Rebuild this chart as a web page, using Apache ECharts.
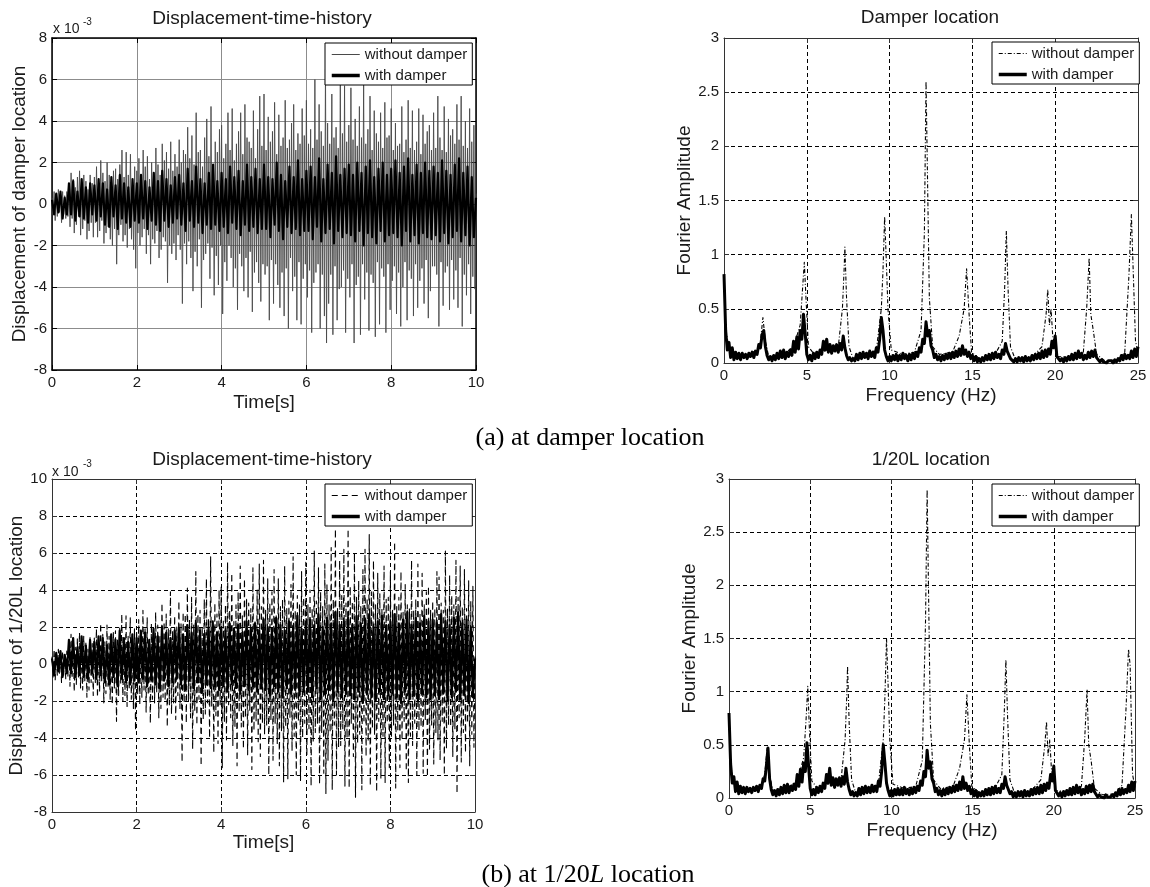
<!DOCTYPE html>
<html>
<head>
<meta charset="utf-8">
<script src="https://cdn.jsdelivr.net/npm/echarts@6/dist/echarts.min.js"></script>
<style>
  html, body { margin: 0; background: #fff; }
  #main { width: 1150px; height: 887px; }
</style>
</head>
<body>
<div id="main"></div>
<script>
// without damper time histories, units of 1e-3, one value every 0.025 s from 0 to 10 s
const dtFine = 0.025;
const dampWithout = [
  0.3, -0.5, 0.6, -0.8, 0.4, -0.6, 0.7, -0.4, 0.5, -0.9, 0.6, -0.5, 0.4, -0.7, 0.6, -0.6, 0.9, -1.1, 1.5, -0.7,
  1.2, -1.4, 0.8, -1.0, 1.3, -0.6, 1.6, -1.5, 0.9, -1.2, 1.4, -0.8, 1.1, -1.7, 0.7, -1.3, 1.4, -0.9, 1.0, -1.6,
  1.3, -0.9, 1.8, -1.6, 1.0, -1.3, 2.1, -0.8, 1.5, -1.9, 1.1, -1.4, 2.0, -1.1, 1.4, -1.7, 0.9, -2.0, 1.6, -1.2,
  1.7, -2.9, 1.2, -1.5, 1.9, -1.0, 2.6, -1.8, 1.3, -1.5, 2.5, -2.1, 1.4, -1.2, 2.4, -1.7, 1.1, -2.2, 1.8, -3.1,
  1.6, -1.4, 2.2, -2.0, 1.3, -1.6, 2.6, -1.2, 1.8, -2.4, 2.3, -1.5, 1.2, -2.9, 2.0, -1.7, 1.5, -1.9, 2.7, -1.3,
  1.9, -2.6, 1.4, -2.2, 2.9, -1.6, 2.1, -1.8, 2.5, -3.8, 1.7, -2.0, 3.0, -2.4, 1.6, -1.9, 2.4, -2.7, 1.8, -1.5,
  3.1, -2.2, 2.0, -4.8, 2.6, -1.9, 2.4, -2.9, 3.7, -1.8, 2.2, -2.6, 3.3, -4.2, 1.9, -2.3, 4.4, -3.0, 2.5, -1.7,
  2.6, -5.0, 1.8, -2.7, 3.2, -2.4, 4.1, -1.9, 2.3, -3.6, 4.7, -2.1, 1.9, -4.4, 3.0, -2.5, 2.5, -3.9, 3.6, -2.0,
  3.8, -5.3, 2.2, -2.8, 2.9, -3.7, 4.4, -2.0, 2.6, -2.6, 4.6, -4.0, 2.1, -3.1, 2.9, -5.1, 3.5, -2.4, 4.4, -3.0,
  2.4, -4.2, 4.8, -2.6, 3.2, -4.5, 3.0, -2.3, 2.7, -5.2, 4.5, -3.3, 2.2, -2.8, 3.6, -3.8, 5.2, -4.7, 2.8, -2.9,
  5.3, -3.4, 2.6, -3.0, 4.2, -5.6, 3.0, -2.7, 3.5, -4.8, 4.9, -2.9, 2.4, -3.9, 4.3, -5.0, 2.8, -3.3, 3.2, -5.4,
  5.0, -3.1, 2.7, -6.0, 3.1, -2.6, 3.9, -4.2, 4.8, -3.5, 2.6, -5.6, 3.4, -2.8, 2.9, -5.8, 4.6, -3.6, 3.3, -2.9,
  5.0, -4.5, 2.9, -3.2, 3.6, -6.2, 2.7, -3.8, 6.0, -3.3, 3.1, -2.9, 4.8, -6.0, 3.5, -3.4, 2.8, -5.4, 6.5, -6.7,
  3.9, -4.8, 2.9, -3.4, 5.3, -6.3, 3.2, -3.0, 3.7, -5.6, 2.7, -4.1, 5.9, -4.0, 3.4, -3.2, 5.7, -6.2, 3.0, -3.6,
  3.8, -4.5, 5.6, -2.9, 3.1, -6.7, 4.1, -3.9, 2.8, -3.5, 4.7, -6.3, 3.2, -2.9, 5.8, -4.6, 2.9, -3.3, 3.6, -6.1,
  5.2, -3.4, 2.6, -3.8, 4.5, -6.4, 3.4, -2.8, 3.0, -5.8, 4.4, -3.1, 2.7, -3.5, 4.9, -6.2, 3.2, -2.9, 3.3, -5.1,
  4.6, -3.7, 2.6, -3.0, 3.9, -5.3, 2.8, -3.3, 2.9, -5.9, 4.7, -4.0, 2.5, -2.8, 3.1, -5.6, 5.0, -3.2, 2.7, -3.6,
  4.5, -5.4, 2.6, -2.9, 3.0, -5.0, 4.6, -3.7, 2.4, -3.1, 4.3, -4.8, 2.9, -2.7, 3.5, -5.5, 3.8, -4.2, 2.6, -3.0,
  4.4, -3.0, 2.7, -3.4, 5.2, -5.9, 3.2, -2.8, 2.6, -4.9, 4.7, -3.3, 2.5, -3.0, 4.1, -5.1, 3.3, -2.7, 3.6, -4.6,
  2.9, -3.2, 4.8, -5.0, 3.1, -2.6, 5.2, -5.9, 2.8, -3.4, 4.0, -4.4, 2.7, -2.9, 4.6, -5.3, 3.0, -3.5, 3.8, -4.1,
  0.5
];
const l20Without = [
  0.4, -0.7, 0.8, -0.9, 0.5, -0.6, 0.8, -0.5, 0.6, -1.0, 0.7, -0.6, 0.5, -0.8, 0.7, -0.7, 1.0, -1.2, 1.6, -0.8,
  1.3, -1.5, 0.9, -1.1, 1.4, -0.7, 1.7, -1.3, 1.0, -1.4, 1.5, -0.9, 1.2, -1.8, 0.8, -1.4, 1.5, -1.0, 1.1, -1.7,
  1.4, -1.0, 1.9, -1.8, 1.1, -1.5, 2.2, -0.9, 1.6, -2.1, 1.2, -1.6, 2.1, -1.2, 1.5, -1.9, 1.0, -2.2, 1.7, -1.3,
  1.8, -3.1, 1.3, -1.7, 2.0, -1.1, 2.7, -2.0, 1.4, -1.7, 2.6, -2.3, 1.5, -1.4, 2.5, -1.9, 1.2, -2.4, 1.9, -3.6,
  1.8, -1.6, 2.4, -2.2, 1.4, -1.8, 2.9, -1.4, 1.9, -2.6, 2.5, -1.7, 1.3, -3.2, 2.2, -1.9, 1.6, -2.1, 2.8, -1.5,
  2.1, -2.9, 1.6, -2.4, 3.3, -1.8, 2.3, -2.0, 2.7, -3.4, 1.9, -2.2, 3.9, -2.7, 1.8, -2.1, 2.6, -3.0, 2.0, -1.7,
  3.4, -2.4, 2.2, -5.3, 2.8, -2.1, 2.7, -3.2, 4.1, -2.0, 2.4, -2.9, 3.6, -4.6, 2.1, -2.5, 5.0, -3.3, 2.7, -1.9,
  2.9, -5.5, 2.0, -3.0, 3.5, -2.7, 4.6, -2.1, 2.5, -4.0, 5.8, -2.3, 2.1, -4.8, 3.3, -2.8, 2.7, -4.3, 4.0, -2.2,
  4.2, -5.6, 2.4, -3.1, 3.2, -4.1, 5.5, -2.2, 2.9, -2.9, 4.9, -4.4, 2.3, -3.4, 3.2, -5.5, 3.9, -2.6, 5.3, -3.4,
  2.6, -4.6, 4.6, -2.9, 3.5, -4.9, 3.3, -2.5, 3.0, -5.7, 5.2, -3.6, 2.4, -3.1, 4.0, -4.2, 5.4, -5.0, 3.1, -3.2,
  5.6, -3.8, 2.9, -3.3, 4.6, -6.0, 3.3, -3.0, 3.9, -5.2, 5.1, -3.2, 2.6, -4.3, 4.6, -5.5, 3.1, -3.6, 3.5, -6.4,
  5.3, -3.4, 3.0, -6.2, 3.4, -2.9, 4.3, -4.7, 5.8, -3.9, 2.9, -6.0, 3.7, -3.1, 3.2, -6.3, 5.0, -4.0, 3.6, -3.2,
  5.5, -5.0, 3.2, -3.5, 4.0, -6.6, 3.0, -4.2, 6.1, -3.7, 3.4, -3.2, 5.2, -6.5, 3.9, -3.7, 3.1, -5.9, 5.4, -7.0,
  4.3, -5.2, 3.2, -3.7, 6.3, -6.8, 3.5, -3.3, 7.3, -6.0, 3.0, -4.5, 5.6, -4.4, 3.7, -3.5, 6.2, -6.6, 3.3, -4.0,
  7.3, -6.7, 4.2, -3.2, 3.4, -5.0, 6.0, -7.2, 3.6, -4.3, 4.5, -3.8, 3.1, -6.8, 5.1, -3.2, 6.2, -5.0, 3.5, -4.2,
  7.0, -6.6, 3.9, -3.5, 5.6, -3.8, 3.2, -6.9, 4.9, -3.1, 3.8, -6.2, 3.0, -3.9, 5.3, -6.4, 3.5, -3.2, 3.6, -5.6,
  5.0, -3.9, 2.9, -3.3, 6.6, -6.7, 3.1, -3.6, 3.6, -5.6, 5.0, -4.1, 2.8, -3.1, 4.3, -5.8, 3.2, -6.4, 3.0, -3.9,
  5.6, -4.4, 2.9, -3.2, 3.5, -6.0, 5.4, -3.6, 2.7, -3.4, 4.9, -5.9, 3.2, -3.0, 3.9, -6.1, 4.2, -4.6, 2.9, -3.3,
  3.4, -5.4, 3.0, -3.7, 5.0, -4.1, 4.7, -5.2, 3.3, -3.1, 2.9, -6.0, 6.1, -4.6, 3.0, -3.3, 4.8, -3.4, 3.7, -5.0,
  3.2, -3.5, 5.6, -7.0, 3.6, -2.9, 5.3, -5.3, 3.1, -3.7, 5.1, -4.8, 3.0, -3.2, 4.5, -5.5, 3.4, -3.8, 4.2, -4.5,
  0.4
];

// with damper time histories, units of 1e-3, one value every 0.05 s from 0 to 10 s
const dt = 0.05;
const dampWith = [
  0.2, -0.5, 0.5, -0.4, 0.6, -0.7, 0.3, -0.5, 1.0, -0.5, 1.1, -0.8, 0.6, -0.6, 1.2, -0.7, 0.8, -0.9, 1.0, -0.5,
  0.9, -0.8, 1.2, -0.6, 1.0, -1.0, 0.7, -1.1, 1.3, -0.6, 0.9, -1.2, 1.4, -0.7, 1.0, -0.9, 0.8, -1.1, 1.2, -0.8,
  1.0, -0.9, 1.4, -0.7, 1.1, -1.2, 0.8, -0.8, 1.5, -1.0, 1.1, -1.3, 1.6, -0.8, 1.2, -1.1, 0.9, -0.9, 1.3, -0.7,
  1.4, -1.0, 1.0, -1.3, 1.7, -0.8, 1.1, -1.1, 1.8, -0.9, 1.2, -1.4, 1.0, -1.0, 1.5, -1.2, 1.9, -1.0, 1.1, -1.3,
  1.5, -1.1, 1.2, -1.4, 1.8, -0.9, 1.3, -1.2, 1.6, -1.5, 1.1, -1.0, 1.9, -1.3, 1.3, -1.1, 1.7, -1.4, 1.2, -1.2,
  1.9, -1.2, 1.3, -1.6, 1.2, -1.0, 2.0, -1.3, 1.4, -1.7, 1.1, -1.1, 1.8, -1.4, 1.3, -1.2, 2.1, -1.5, 1.2, -1.3,
  1.6, -1.3, 1.8, -1.7, 1.3, -1.1, 2.2, -1.8, 1.2, -1.4, 1.9, -1.2, 1.5, -1.9, 2.3, -1.3, 1.4, -1.6, 1.7, -1.4,
  1.9, -1.5, 1.4, -1.8, 2.0, -1.3, 1.5, -2.0, 1.8, -1.4, 2.1, -1.6, 1.3, -1.9, 1.7, -1.3, 2.0, -1.8, 1.4, -1.5,
  1.7, -1.4, 2.1, -1.6, 1.5, -2.0, 1.8, -1.3, 2.2, -1.8, 1.4, -1.5, 1.9, -1.9, 1.5, -1.4, 2.0, -1.6, 1.6, -1.7,
  1.8, -1.5, 1.5, -1.8, 2.1, -1.4, 1.6, -1.9, 1.4, -1.6, 1.9, -1.3, 2.2, -1.8, 1.5, -1.5, 1.8, -2.0, 1.3, -1.6,
  0.3
];
const l20With = [
  0.3, -0.6, 0.6, -0.4, 0.7, -0.7, 0.5, -0.5, 1.3, -0.5, 1.4, -0.7, 0.9, -0.6, 1.5, -0.7, 1.0, -0.8, 1.3, -0.5,
  1.2, -0.8, 1.5, -0.6, 1.4, -1.0, 1.0, -1.1, 1.6, -0.7, 1.3, -1.2, 1.8, -0.8, 1.4, -1.0, 1.2, -1.1, 1.6, -0.9,
  1.4, -1.0, 1.8, -0.8, 1.7, -1.2, 1.3, -0.9, 1.9, -1.1, 1.5, -1.3, 2.0, -0.9, 1.7, -1.2, 1.4, -1.0, 1.8, -0.8,
  1.9, -1.1, 1.6, -1.4, 2.1, -0.9, 1.7, -1.3, 2.2, -1.0, 1.8, -1.5, 1.6, -1.1, 2.0, -1.3, 2.3, -1.2, 1.7, -1.4,
  2.0, -1.2, 1.8, -1.5, 2.2, -1.1, 1.9, -1.3, 2.1, -1.6, 1.7, -1.2, 2.3, -1.4, 1.9, -1.2, 2.2, -1.5, 1.8, -1.3,
  2.4, -1.4, 2.0, -1.7, 1.9, -1.2, 2.5, -1.5, 2.1, -1.8, 1.8, -1.3, 2.3, -1.6, 2.0, -1.4, 2.6, -1.7, 1.9, -1.5,
  2.2, -1.5, 2.4, -1.8, 2.1, -1.3, 2.7, -1.9, 2.0, -1.6, 2.5, -1.4, 2.2, -2.0, 2.8, -1.5, 2.1, -1.8, 2.3, -1.6,
  2.5, -1.7, 2.1, -1.9, 2.6, -1.5, 2.2, -2.1, 2.4, -1.6, 2.7, -1.8, 2.0, -2.0, 2.3, -1.5, 2.6, -1.9, 2.1, -1.7,
  2.3, -1.6, 2.7, -1.8, 2.2, -2.1, 2.4, -1.5, 2.8, -1.9, 2.1, -1.7, 2.5, -2.0, 2.2, -1.6, 2.6, -1.8, 2.3, -1.9,
  2.4, -1.7, 2.2, -1.9, 2.7, -1.6, 2.3, -2.0, 2.1, -1.8, 2.5, -1.5, 2.8, -1.9, 2.2, -1.7, 2.4, -2.1, 2.0, -1.8,
  0.3
];

// Fourier amplitude, with damper: one value every 0.1 Hz from 0 to 25 Hz
const df = 0.1;
const specDampWith = [
  0.82, 0.30, 0.12, 0.19, 0.05, 0.14, 0.03, 0.10, 0.04, 0.09,
  0.03, 0.09, 0.05, 0.08, 0.04, 0.09, 0.06, 0.10, 0.05, 0.11,
  0.08, 0.17, 0.14, 0.26, 0.30, 0.15, 0.07, 0.03, 0.06, 0.02,
  0.07, 0.03, 0.09, 0.04, 0.11, 0.05, 0.12, 0.04, 0.10, 0.06,
  0.12, 0.07, 0.20, 0.10, 0.24, 0.13, 0.30, 0.22, 0.45, 0.28,
  0.08, 0.03, 0.07, 0.02, 0.09, 0.04, 0.10, 0.05, 0.12, 0.08,
  0.20, 0.12, 0.22, 0.10, 0.17, 0.09, 0.16, 0.11, 0.17, 0.10,
  0.18, 0.12, 0.25, 0.14, 0.07, 0.03, 0.05, 0.02, 0.04, 0.02,
  0.08, 0.03, 0.09, 0.04, 0.10, 0.05, 0.09, 0.04, 0.11, 0.06,
  0.10, 0.05, 0.14, 0.10, 0.22, 0.42, 0.30, 0.12, 0.06, 0.02,
  0.06, 0.02, 0.07, 0.03, 0.08, 0.02, 0.07, 0.03, 0.09, 0.04,
  0.07, 0.02, 0.08, 0.03, 0.09, 0.04, 0.10, 0.06, 0.14, 0.10,
  0.22, 0.18, 0.38, 0.25, 0.30, 0.16, 0.12, 0.05, 0.08, 0.03,
  0.06, 0.02, 0.07, 0.03, 0.08, 0.04, 0.09, 0.04, 0.10, 0.05,
  0.11, 0.06, 0.13, 0.07, 0.16, 0.08, 0.12, 0.06, 0.10, 0.04,
  0.07, 0.02, 0.06, 0.01, 0.04, 0.01, 0.05, 0.02, 0.07, 0.03,
  0.08, 0.03, 0.09, 0.04, 0.10, 0.05, 0.08, 0.04, 0.12, 0.08,
  0.18, 0.11, 0.10, 0.04, 0.05, 0.01, 0.04, 0.01, 0.05, 0.02,
  0.05, 0.01, 0.06, 0.02, 0.05, 0.02, 0.07, 0.03, 0.08, 0.04,
  0.09, 0.04, 0.11, 0.05, 0.12, 0.06, 0.13, 0.08, 0.20, 0.14,
  0.25, 0.06, 0.06, 0.02, 0.04, 0.01, 0.05, 0.02, 0.06, 0.03,
  0.08, 0.03, 0.09, 0.04, 0.11, 0.05, 0.09, 0.03, 0.07, 0.04,
  0.10, 0.05, 0.11, 0.06, 0.12, 0.05, 0.04, 0.01, 0.03, 0.01,
  0.02, 0.00, 0.02, 0.01, 0.02, 0.00, 0.03, 0.01, 0.04, 0.02,
  0.07, 0.03, 0.08, 0.04, 0.07, 0.04, 0.11, 0.05, 0.13, 0.06,
  0.15
];
const specL20With = [
  0.80, 0.32, 0.14, 0.20, 0.06, 0.15, 0.04, 0.11, 0.05, 0.10,
  0.04, 0.10, 0.06, 0.09, 0.05, 0.10, 0.07, 0.11, 0.06, 0.12,
  0.09, 0.18, 0.16, 0.30, 0.47, 0.18, 0.08, 0.03, 0.07, 0.02,
  0.08, 0.03, 0.10, 0.04, 0.12, 0.05, 0.13, 0.05, 0.11, 0.07,
  0.13, 0.08, 0.22, 0.11, 0.27, 0.15, 0.33, 0.25, 0.52, 0.30,
  0.09, 0.03, 0.08, 0.03, 0.10, 0.05, 0.11, 0.06, 0.14, 0.09,
  0.22, 0.14, 0.28, 0.12, 0.19, 0.10, 0.18, 0.12, 0.19, 0.11,
  0.20, 0.13, 0.28, 0.15, 0.08, 0.03, 0.06, 0.02, 0.05, 0.02,
  0.09, 0.03, 0.10, 0.04, 0.11, 0.05, 0.10, 0.05, 0.12, 0.06,
  0.11, 0.06, 0.16, 0.11, 0.25, 0.50, 0.33, 0.14, 0.07, 0.02,
  0.07, 0.02, 0.08, 0.03, 0.09, 0.03, 0.08, 0.03, 0.10, 0.04,
  0.08, 0.03, 0.09, 0.04, 0.10, 0.05, 0.11, 0.07, 0.16, 0.12,
  0.25, 0.20, 0.45, 0.28, 0.34, 0.18, 0.14, 0.06, 0.09, 0.03,
  0.07, 0.02, 0.08, 0.03, 0.09, 0.04, 0.10, 0.05, 0.11, 0.06,
  0.12, 0.07, 0.15, 0.08, 0.20, 0.09, 0.14, 0.07, 0.11, 0.04,
  0.08, 0.02, 0.07, 0.01, 0.05, 0.02, 0.06, 0.02, 0.08, 0.03,
  0.09, 0.03, 0.10, 0.04, 0.11, 0.05, 0.09, 0.05, 0.13, 0.09,
  0.20, 0.12, 0.11, 0.04, 0.06, 0.01, 0.05, 0.01, 0.06, 0.02,
  0.06, 0.01, 0.07, 0.02, 0.06, 0.02, 0.08, 0.03, 0.09, 0.04,
  0.10, 0.04, 0.12, 0.05, 0.13, 0.07, 0.14, 0.09, 0.22, 0.16,
  0.30, 0.07, 0.07, 0.02, 0.05, 0.01, 0.06, 0.02, 0.07, 0.03,
  0.09, 0.03, 0.10, 0.04, 0.12, 0.05, 0.10, 0.03, 0.08, 0.04,
  0.11, 0.05, 0.12, 0.06, 0.13, 0.06, 0.05, 0.01, 0.03, 0.01,
  0.02, 0.00, 0.03, 0.01, 0.02, 0.01, 0.03, 0.01, 0.05, 0.02,
  0.08, 0.03, 0.09, 0.04, 0.08, 0.05, 0.12, 0.06, 0.15, 0.07,
  0.16
];

// Fourier amplitude, without damper: [frequency Hz, amplitude]
const specDampWithout = [
  [0, 0.8], [0.1, 0.3], [0.3, 0.15], [0.6, 0.08], [1.0, 0.07], [1.5, 0.08], [2.0, 0.12], [2.2, 0.2],
  [2.35, 0.42], [2.5, 0.2], [2.7, 0.06], [3.5, 0.07], [4.2, 0.15], [4.6, 0.35], [4.75, 0.7], [4.85, 0.93],
  [4.95, 0.6], [5.1, 0.15], [5.5, 0.07], [6.2, 0.12], [6.9, 0.15], [7.15, 0.5], [7.25, 0.85], [7.3, 1.07],
  [7.4, 0.6], [7.55, 0.15], [7.8, 0.04], [8.5, 0.07], [9.2, 0.12], [9.5, 0.5], [9.6, 0.85], [9.7, 1.35],
  [9.8, 0.95], [9.9, 0.5], [10.1, 0.12], [10.8, 0.08], [11.5, 0.1], [11.9, 0.3], [12.1, 1.2], [12.2, 2.6],
  [12.3, 1.6], [12.4, 0.6], [12.6, 0.15], [13.0, 0.08], [13.8, 0.1], [14.2, 0.25], [14.5, 0.5], [14.65, 0.87],
  [14.8, 0.45], [14.95, 0.1], [15.5, 0.03], [16.3, 0.06], [16.8, 0.2], [16.95, 0.7], [17.05, 1.22], [17.15, 0.7],
  [17.3, 0.15], [17.6, 0.03], [18.5, 0.04], [19.2, 0.15], [19.45, 0.45], [19.55, 0.68], [19.65, 0.35], [19.75, 0.5],
  [19.85, 0.25], [20.1, 0.06], [21.0, 0.05], [21.7, 0.1], [21.9, 0.5], [22.05, 0.97], [22.15, 0.45], [22.3, 0.3],
  [22.5, 0.08], [23.0, 0.02], [23.8, 0.03], [24.2, 0.1], [24.45, 0.8], [24.6, 1.37], [24.7, 0.9], [24.85, 0.2],
  [25, 0.1]
];
const specL20Without = [
  [0, 0.8], [0.1, 0.3], [0.3, 0.16], [0.6, 0.09], [1.0, 0.08], [1.5, 0.09], [2.0, 0.13], [2.2, 0.22],
  [2.35, 0.47], [2.5, 0.22], [2.7, 0.07], [3.5, 0.08], [4.2, 0.16], [4.6, 0.38], [4.75, 0.75], [4.85, 1.05],
  [4.95, 0.65], [5.1, 0.16], [5.5, 0.08], [6.2, 0.14], [6.9, 0.17], [7.15, 0.55], [7.25, 0.95], [7.3, 1.24],
  [7.4, 0.7], [7.55, 0.17], [7.8, 0.05], [8.5, 0.08], [9.2, 0.13], [9.5, 0.55], [9.6, 0.95], [9.7, 1.5],
  [9.8, 1.05], [9.9, 0.55], [10.1, 0.13], [10.8, 0.09], [11.5, 0.11], [11.9, 0.35], [12.1, 1.65], [12.2, 2.9],
  [12.3, 1.8], [12.4, 0.7], [12.6, 0.17], [13.0, 0.09], [13.8, 0.11], [14.2, 0.28], [14.5, 0.55], [14.65, 0.97],
  [14.8, 0.5], [14.95, 0.11], [15.5, 0.04], [16.3, 0.07], [16.8, 0.22], [16.95, 0.8], [17.05, 1.3], [17.15, 0.78],
  [17.3, 0.17], [17.6, 0.04], [18.5, 0.05], [19.2, 0.17], [19.45, 0.5], [19.55, 0.72], [19.65, 0.4], [19.75, 0.55],
  [19.85, 0.28], [20.1, 0.07], [21.0, 0.06], [21.7, 0.11], [21.9, 0.55], [22.05, 1.02], [22.15, 0.5], [22.3, 0.35],
  [22.5, 0.09], [23.0, 0.03], [23.8, 0.04], [24.2, 0.12], [24.45, 0.85], [24.6, 1.4], [24.7, 1.25], [24.85, 0.22],
  [25, 0.1]
];

const font = '"Liberation Sans", Arial, Helvetica, sans-serif';
const serif = '"Liberation Serif", "Times New Roman", serif';
const ink = '#1a1a1a';

const toPairs = (vals, step) => vals.map((v, i) => [+(i * step).toFixed(3), v]);

const grids = [
  { left: 52, top: 38, width: 424, height: 332 },
  { left: 724, top: 38, width: 414, height: 325 },
  { left: 52, top: 479, width: 423, height: 333 },
  { left: 729, top: 479, width: 406, height: 319 }
];

const solidGrid = { show: true, lineStyle: { color: '#8c8c8c', width: 1, type: 'solid' } };
const dashGrid = { show: true, lineStyle: { color: '#000', width: 1, type: [4, 3] } };
const heavyFrame = { color: '#000', width: 1.5 };
const lightFrame = { color: '#333', width: 1 };

// main axis with labels, plus a mirror on the opposite side (box look)
function axisPair(kind, g, min, max, step, split, frame, name, gap) {
  const tick = { show: true, inside: true, length: 5, lineStyle: { color: frame.color, width: 1 } };
  const main = {
    type: 'value', gridIndex: g, min: min, max: max, interval: step,
    position: kind === 'x' ? 'bottom' : 'left',
    name: name, nameLocation: 'middle', nameGap: gap,
    nameTextStyle: { fontFamily: font, fontSize: 19, color: ink },
    axisLine: { show: true, onZero: false, lineStyle: frame },
    axisTick: tick,
    axisLabel: { fontFamily: font, fontSize: 15, color: ink, margin: 5 },
    splitLine: split
  };
  const mirror = {
    type: 'value', gridIndex: g, min: min, max: max, interval: step,
    position: kind === 'x' ? 'top' : 'right',
    axisLine: { show: true, onZero: false, lineStyle: frame },
    axisTick: tick,
    axisLabel: { show: false },
    splitLine: { show: false }
  };
  return [main, mirror];
}

const xAxes = [].concat(
  axisPair('x', 0, 0, 10, 2, solidGrid, heavyFrame, 'Time[s]', 23),
  axisPair('x', 1, 0, 25, 5, dashGrid, lightFrame, 'Frequency (Hz)', 23),
  axisPair('x', 2, 0, 10, 2, dashGrid, lightFrame, 'Time[s]', 21),
  axisPair('x', 3, 0, 25, 5, dashGrid, lightFrame, 'Frequency (Hz)', 23)
);
const yAxes = [].concat(
  axisPair('y', 0, -8, 8, 2, solidGrid, heavyFrame, 'Displacement of damper location', 23),
  axisPair('y', 1, 0, 3, 0.5, dashGrid, lightFrame, 'Fourier Amplitude', 22),
  axisPair('y', 2, -8, 10, 2, dashGrid, lightFrame, 'Displacement of 1/20L location', 26),
  axisPair('y', 3, 0, 3, 0.5, dashGrid, lightFrame, 'Fourier Amplitude', 27)
);

function lineSeries(name, g, data, style) {
  return {
    type: 'line', name: name, xAxisIndex: 2 * g, yAxisIndex: 2 * g,
    data: data, symbol: 'none', showSymbol: false, animation: false, clip: true,
    itemStyle: { color: style.color },
    lineStyle: Object.assign({ join: 'round' }, style)
  };
}

const thinGray = { color: '#4a4a4a', width: 0.9, type: 'solid' };
const dashed = { color: '#000', width: 1.1, type: [6, 4] };
const dashDot = { color: '#000', width: 1.1, type: [4, 2, 1, 2] };
const thick = { color: '#000', width: 2.2, type: 'solid' };
const thickSpec = { color: '#000', width: 3, type: 'solid' };

// legend icons are plain line samples: the symbol part is made invisible
function legendAt(left, top, withoutStyle) {
  return {
    orient: 'vertical', left: left, top: top,
    padding: [4, 5, 2, 5], itemGap: 6, itemWidth: 28, itemHeight: 14,
    borderColor: '#000', borderWidth: 1, borderRadius: 0, backgroundColor: '#fff',
    selectedMode: false,
    itemStyle: { opacity: 0, borderWidth: 0 },
    textStyle: { fontFamily: font, fontSize: 15, color: ink },
    data: [
      { name: 'without damper', itemStyle: { opacity: 0, borderWidth: 0 }, lineStyle: Object.assign({ opacity: 1 }, withoutStyle, { width: 1 }) },
      { name: 'with damper', itemStyle: { opacity: 0, borderWidth: 0 }, lineStyle: { color: '#000', width: 3.5, type: 'solid', opacity: 1 } }
    ]
  };
}

function titleAt(text, x, y) {
  return {
    text: text, left: x, top: y, textAlign: 'center', padding: 0,
    textStyle: { fontFamily: font, fontSize: 19, fontWeight: 'normal', color: ink }
  };
}

const chart = echarts.init(document.getElementById('main'), null, { renderer: 'canvas' });
chart.setOption({
  backgroundColor: '#fff',
  animation: false,
  title: [
    titleAt('Displacement-time-history', 262, 9),
    titleAt('Damper location', 930, 8),
    titleAt('Displacement-time-history', 262, 450),
    titleAt('1/20L location', 931, 450)
  ],
  grid: grids,
  xAxis: xAxes,
  yAxis: yAxes,
  legend: [
    legendAt(325, 43, thinGray),
    legendAt(992, 42, dashDot),
    legendAt(325, 484, dashed),
    legendAt(992, 484, dashDot)
  ],
  series: [
    lineSeries('without damper', 0, toPairs(dampWithout, dtFine), thinGray),
    lineSeries('with damper', 0, toPairs(dampWith, dt), thick),
    lineSeries('without damper', 1, specDampWithout, dashDot),
    lineSeries('with damper', 1, toPairs(specDampWith, df), thickSpec),
    lineSeries('without damper', 2, toPairs(l20Without, dtFine), dashed),
    lineSeries('with damper', 2, toPairs(l20With, dt), thick),
    lineSeries('without damper', 3, specL20Without, dashDot),
    lineSeries('with damper', 3, toPairs(specL20With, df), thickSpec)
  ],
  graphic: [
    { type: 'text', x: 53, y: 29, style: { text: 'x 10', fontFamily: font, fontSize: 14, fill: ink, verticalAlign: 'middle' } },
    { type: 'text', x: 83, y: 22, style: { text: '-3', fontFamily: font, fontSize: 10, fill: ink, verticalAlign: 'middle' } },
    { type: 'text', x: 52, y: 472, style: { text: 'x 10', fontFamily: font, fontSize: 14, fill: ink, verticalAlign: 'middle' } },
    { type: 'text', x: 83, y: 464, style: { text: '-3', fontFamily: font, fontSize: 10, fill: ink, verticalAlign: 'middle' } },
    {
      type: 'text', x: 590, y: 438,
      style: { text: '(a) at damper location', fontFamily: serif, fontSize: 26, fill: '#000', align: 'center', verticalAlign: 'middle' }
    },
    {
      type: 'text', x: 588, y: 875,
      style: {
        text: '{n|(b) at 1/20}{i|L}{n| location}',
        align: 'center', verticalAlign: 'middle', fill: '#000',
        rich: {
          n: { fontFamily: serif, fontSize: 26, color: '#000' },
          i: { fontFamily: serif, fontSize: 26, fontStyle: 'italic', color: '#000' }
        }
      }
    }
  ]
});
</script>
</body>
</html>
